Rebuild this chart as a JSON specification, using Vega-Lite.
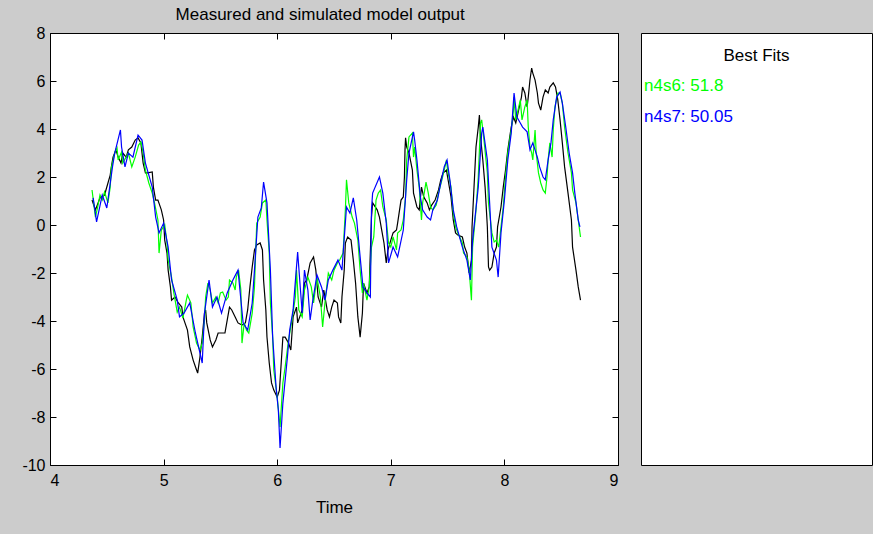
{
  "$schema": "https://vega.github.io/schema/vega-lite/v6.json",
  "background": "#cccccc",
  "padding": {"left": 21, "top": 5, "right": 0, "bottom": 18},
  "spacing": 21,
  "config": {
    "view": {"stroke": "#000000", "strokeWidth": 1, "fill": "#ffffff"},
    "font": "Liberation Sans",
    "axis": {"grid": false, "domain": false, "tickColor": "#000000", "tickSize": -6, "labelColor": "#000000", "labelFont": "Liberation Sans", "labelFontSize": 16, "titleFont": "Liberation Sans", "titleFontSize": 17, "titleFontWeight": "normal", "titleColor": "#000000", "labelExpr": "replace(datum.label, '\u2212', '-')"},
    "title": {"font": "Liberation Sans", "fontSize": 17, "fontWeight": "normal", "color": "#000000"}
  },
  "datasets": {
    "fits": [
      {"series": "n4s6", "rank": 1, "label": "n4s6: 51.8"},
      {"series": "n4s7", "rank": 2, "label": "n4s7: 50.05"}
    ],
    "lines": [
      {"series":"measured","time":4.37,"y":1.04},{"series":"measured","time":4.40,"y":0.63},{"series":"measured","time":4.44,"y":1.13},{"series":"measured","time":4.48,"y":1.25},{"series":"measured","time":4.53,"y":2.08},{"series":"measured","time":4.54,"y":2.42},{"series":"measured","time":4.555,"y":2.83},{"series":"measured","time":4.58,"y":3.13},{"series":"measured","time":4.60,"y":2.83},{"series":"measured","time":4.625,"y":2.58},{"series":"measured","time":4.64,"y":3.0},{"series":"measured","time":4.67,"y":2.83},{"series":"measured","time":4.69,"y":3.13},{"series":"measured","time":4.72,"y":3.25},{"series":"measured","time":4.75,"y":3.54},{"series":"measured","time":4.775,"y":3.63},{"series":"measured","time":4.80,"y":3.42},{"series":"measured","time":4.82,"y":2.58},{"series":"measured","time":4.84,"y":2.17},{"series":"measured","time":4.86,"y":2.17},{"series":"measured","time":4.90,"y":2.21},{"series":"measured","time":4.91,"y":1.58},{"series":"measured","time":4.93,"y":1.04},{"series":"measured","time":4.95,"y":1.04},{"series":"measured","time":4.98,"y":0.63},{"series":"measured","time":5.00,"y":0.21},{"series":"measured","time":5.01,"y":-0.63},{"series":"measured","time":5.03,"y":-1.17},{"series":"measured","time":5.04,"y":-1.88},{"series":"measured","time":5.06,"y":-2.58},{"series":"measured","time":5.07,"y":-3.13},{"series":"measured","time":5.10,"y":-3.0},{"series":"measured","time":5.13,"y":-3.25},{"series":"measured","time":5.16,"y":-3.42},{"series":"measured","time":5.17,"y":-3.83},{"series":"measured","time":5.21,"y":-4.38},{"series":"measured","time":5.23,"y":-5.08},{"series":"measured","time":5.26,"y":-5.63},{"series":"measured","time":5.29,"y":-6.04},{"series":"measured","time":5.30,"y":-6.17},{"series":"measured","time":5.32,"y":-5.5},{"series":"measured","time":5.34,"y":-4.67},{"series":"measured","time":5.36,"y":-3.67},{"series":"measured","time":5.37,"y":-3.54},{"series":"measured","time":5.38,"y":-4.08},{"series":"measured","time":5.41,"y":-4.79},{"series":"measured","time":5.43,"y":-5.08},{"series":"measured","time":5.46,"y":-4.79},{"series":"measured","time":5.48,"y":-4.5},{"series":"measured","time":5.51,"y":-4.5},{"series":"measured","time":5.54,"y":-4.5},{"series":"measured","time":5.56,"y":-3.96},{"series":"measured","time":5.58,"y":-3.42},{"series":"measured","time":5.60,"y":-3.54},{"series":"measured","time":5.63,"y":-3.83},{"series":"measured","time":5.655,"y":-4.08},{"series":"measured","time":5.69,"y":-4.17},{"series":"measured","time":5.72,"y":-4.08},{"series":"measured","time":5.74,"y":-3.54},{"series":"measured","time":5.76,"y":-2.58},{"series":"measured","time":5.78,"y":-1.75},{"series":"measured","time":5.80,"y":-1.04},{"series":"measured","time":5.82,"y":-0.83},{"series":"measured","time":5.85,"y":-0.75},{"series":"measured","time":5.87,"y":-1.04},{"series":"measured","time":5.88,"y":-2.29},{"series":"measured","time":5.90,"y":-3.54},{"series":"measured","time":5.91,"y":-4.67},{"series":"measured","time":5.93,"y":-5.75},{"series":"measured","time":5.95,"y":-6.58},{"series":"measured","time":5.97,"y":-6.88},{"series":"measured","time":6.00,"y":-7.17},{"series":"measured","time":6.02,"y":-6.88},{"series":"measured","time":6.05,"y":-4.67},{"series":"measured","time":6.07,"y":-4.67},{"series":"measured","time":6.10,"y":-4.92},{"series":"measured","time":6.12,"y":-5.21},{"series":"measured","time":6.14,"y":-3.83},{"series":"measured","time":6.17,"y":-3.42},{"series":"measured","time":6.18,"y":-4.08},{"series":"measured","time":6.22,"y":-3.54},{"series":"measured","time":6.24,"y":-2.42},{"series":"measured","time":6.26,"y":-2.29},{"series":"measured","time":6.29,"y":-1.58},{"series":"measured","time":6.32,"y":-1.33},{"series":"measured","time":6.34,"y":-1.88},{"series":"measured","time":6.36,"y":-3.0},{"series":"measured","time":6.39,"y":-3.42},{"series":"measured","time":6.41,"y":-2.71},{"series":"measured","time":6.44,"y":-3.54},{"series":"measured","time":6.46,"y":-3.83},{"series":"measured","time":6.48,"y":-3.42},{"series":"measured","time":6.50,"y":-3.13},{"series":"measured","time":6.53,"y":-3.25},{"series":"measured","time":6.54,"y":-3.83},{"series":"measured","time":6.56,"y":-4.08},{"series":"measured","time":6.57,"y":-3.0},{"series":"measured","time":6.59,"y":-1.88},{"series":"measured","time":6.60,"y":-0.75},{"series":"measured","time":6.62,"y":-0.5},{"series":"measured","time":6.65,"y":-0.63},{"series":"measured","time":6.67,"y":-1.46},{"series":"measured","time":6.69,"y":-2.42},{"series":"measured","time":6.71,"y":-3.83},{"series":"measured","time":6.73,"y":-4.67},{"series":"measured","time":6.75,"y":-3.67},{"series":"measured","time":6.76,"y":-2.42},{"series":"measured","time":6.79,"y":-2.83},{"series":"measured","time":6.81,"y":-2.58},{"series":"measured","time":6.83,"y":0.33},{"series":"measured","time":6.84,"y":0.92},{"series":"measured","time":6.88,"y":0.63},{"series":"measured","time":6.90,"y":0.33},{"series":"measured","time":6.92,"y":-0.21},{"series":"measured","time":6.94,"y":-0.75},{"series":"measured","time":6.96,"y":-1.58},{"series":"measured","time":6.975,"y":-1.04},{"series":"measured","time":7.00,"y":-0.63},{"series":"measured","time":7.02,"y":-0.33},{"series":"measured","time":7.05,"y":-0.21},{"series":"measured","time":7.06,"y":0.08},{"series":"measured","time":7.09,"y":1.04},{"series":"measured","time":7.11,"y":1.17},{"series":"measured","time":7.12,"y":2.0},{"series":"measured","time":7.125,"y":3.13},{"series":"measured","time":7.13,"y":3.63},{"series":"measured","time":7.14,"y":3.25},{"series":"measured","time":7.16,"y":3.0},{"series":"measured","time":7.19,"y":2.29},{"series":"measured","time":7.20,"y":1.33},{"series":"measured","time":7.23,"y":0.75},{"series":"measured","time":7.25,"y":0.63},{"series":"measured","time":7.27,"y":1.58},{"series":"measured","time":7.29,"y":1.17},{"series":"measured","time":7.32,"y":0.92},{"series":"measured","time":7.34,"y":0.63},{"series":"measured","time":7.36,"y":0.83},{"series":"measured","time":7.39,"y":1.04},{"series":"measured","time":7.42,"y":1.46},{"series":"measured","time":7.44,"y":1.88},{"series":"measured","time":7.46,"y":2.17},{"series":"measured","time":7.49,"y":2.29},{"series":"measured","time":7.50,"y":2.0},{"series":"measured","time":7.53,"y":1.17},{"series":"measured","time":7.55,"y":0.21},{"series":"measured","time":7.57,"y":-0.33},{"series":"measured","time":7.59,"y":-0.42},{"series":"measured","time":7.63,"y":-0.5},{"series":"measured","time":7.65,"y":-0.92},{"series":"measured","time":7.67,"y":-1.17},{"series":"measured","time":7.69,"y":-2.0},{"series":"measured","time":7.71,"y":-1.46},{"series":"measured","time":7.715,"y":-0.08},{"series":"measured","time":7.73,"y":1.33},{"series":"measured","time":7.75,"y":3.25},{"series":"measured","time":7.77,"y":4.08},{"series":"measured","time":7.78,"y":4.58},{"series":"measured","time":7.79,"y":3.67},{"series":"measured","time":7.81,"y":2.71},{"series":"measured","time":7.83,"y":1.58},{"series":"measured","time":7.85,"y":-0.08},{"series":"measured","time":7.86,"y":-1.75},{"series":"measured","time":7.87,"y":-1.88},{"series":"measured","time":7.89,"y":-1.75},{"series":"measured","time":7.91,"y":-1.17},{"series":"measured","time":7.93,"y":-0.92},{"series":"measured","time":7.94,"y":-0.08},{"series":"measured","time":7.97,"y":0.75},{"series":"measured","time":7.99,"y":1.58},{"series":"measured","time":8.01,"y":2.29},{"series":"measured","time":8.03,"y":3.13},{"series":"measured","time":8.06,"y":4.08},{"series":"measured","time":8.08,"y":4.5},{"series":"measured","time":8.10,"y":4.25},{"series":"measured","time":8.12,"y":4.67},{"series":"measured","time":8.15,"y":5.33},{"series":"measured","time":8.16,"y":5.75},{"series":"measured","time":8.18,"y":5.5},{"series":"measured","time":8.20,"y":4.92},{"series":"measured","time":8.21,"y":5.33},{"series":"measured","time":8.225,"y":6.04},{"series":"measured","time":8.24,"y":6.54},{"series":"measured","time":8.25,"y":6.33},{"series":"measured","time":8.27,"y":6.04},{"series":"measured","time":8.29,"y":5.5},{"series":"measured","time":8.30,"y":5.08},{"series":"measured","time":8.32,"y":4.79},{"series":"measured","time":8.34,"y":5.33},{"series":"measured","time":8.36,"y":5.63},{"series":"measured","time":8.385,"y":5.5},{"series":"measured","time":8.40,"y":5.75},{"series":"measured","time":8.43,"y":5.92},{"series":"measured","time":8.45,"y":5.75},{"series":"measured","time":8.47,"y":5.21},{"series":"measured","time":8.49,"y":4.38},{"series":"measured","time":8.51,"y":3.42},{"series":"measured","time":8.53,"y":2.42},{"series":"measured","time":8.56,"y":1.33},{"series":"measured","time":8.59,"y":0.21},{"series":"measured","time":8.60,"y":-0.92},{"series":"measured","time":8.63,"y":-1.88},{"series":"measured","time":8.65,"y":-2.58},{"series":"measured","time":8.67,"y":-3.13},

      {"series":"n4s6","time":4.37,"y":1.46},{"series":"n4s6","time":4.40,"y":0.33},{"series":"n4s6","time":4.42,"y":0.75},{"series":"n4s6","time":4.44,"y":1.25},{"series":"n4s6","time":4.46,"y":1.04},{"series":"n4s6","time":4.48,"y":1.38},{"series":"n4s6","time":4.51,"y":0.92},{"series":"n4s6","time":4.53,"y":1.58},{"series":"n4s6","time":4.54,"y":2.38},{"series":"n4s6","time":4.57,"y":3.0},{"series":"n4s6","time":4.59,"y":3.21},{"series":"n4s6","time":4.60,"y":2.71},{"series":"n4s6","time":4.63,"y":3.04},{"series":"n4s6","time":4.64,"y":2.58},{"series":"n4s6","time":4.67,"y":2.83},{"series":"n4s6","time":4.69,"y":3.0},{"series":"n4s6","time":4.72,"y":2.42},{"series":"n4s6","time":4.75,"y":2.83},{"series":"n4s6","time":4.78,"y":3.33},{"series":"n4s6","time":4.80,"y":3.46},{"series":"n4s6","time":4.82,"y":3.0},{"series":"n4s6","time":4.84,"y":2.29},{"series":"n4s6","time":4.87,"y":1.75},{"series":"n4s6","time":4.90,"y":1.33},{"series":"n4s6","time":4.92,"y":0.92},{"series":"n4s6","time":4.95,"y":0.21},{"series":"n4s6","time":4.96,"y":-1.17},{"series":"n4s6","time":4.98,"y":-0.21},{"series":"n4s6","time":5.01,"y":0.0},{"series":"n4s6","time":5.03,"y":-0.75},{"series":"n4s6","time":5.04,"y":-1.46},{"series":"n4s6","time":5.07,"y":-2.17},{"series":"n4s6","time":5.09,"y":-2.83},{"series":"n4s6","time":5.12,"y":-3.63},{"series":"n4s6","time":5.14,"y":-3.42},{"series":"n4s6","time":5.17,"y":-3.88},{"series":"n4s6","time":5.20,"y":-3.13},{"series":"n4s6","time":5.21,"y":-2.92},{"series":"n4s6","time":5.24,"y":-3.25},{"series":"n4s6","time":5.26,"y":-4.25},{"series":"n4s6","time":5.29,"y":-4.92},{"series":"n4s6","time":5.32,"y":-5.21},{"series":"n4s6","time":5.34,"y":-4.92},{"series":"n4s6","time":5.36,"y":-3.96},{"series":"n4s6","time":5.37,"y":-3.0},{"series":"n4s6","time":5.39,"y":-2.42},{"series":"n4s6","time":5.41,"y":-2.71},{"series":"n4s6","time":5.43,"y":-3.25},{"series":"n4s6","time":5.46,"y":-3.0},{"series":"n4s6","time":5.48,"y":-3.25},{"series":"n4s6","time":5.50,"y":-2.83},{"series":"n4s6","time":5.52,"y":-2.79},{"series":"n4s6","time":5.55,"y":-3.13},{"series":"n4s6","time":5.57,"y":-3.0},{"series":"n4s6","time":5.58,"y":-2.29},{"series":"n4s6","time":5.61,"y":-2.42},{"series":"n4s6","time":5.63,"y":-2.71},{"series":"n4s6","time":5.64,"y":-2.17},{"series":"n4s6","time":5.66,"y":-1.88},{"series":"n4s6","time":5.68,"y":-2.71},{"series":"n4s6","time":5.69,"y":-4.92},{"series":"n4s6","time":5.71,"y":-4.08},{"series":"n4s6","time":5.73,"y":-4.38},{"series":"n4s6","time":5.75,"y":-4.5},{"series":"n4s6","time":5.78,"y":-3.67},{"series":"n4s6","time":5.80,"y":-2.58},{"series":"n4s6","time":5.81,"y":-1.17},{"series":"n4s6","time":5.82,"y":0.08},{"series":"n4s6","time":5.85,"y":0.33},{"series":"n4s6","time":5.87,"y":0.92},{"series":"n4s6","time":5.90,"y":1.04},{"series":"n4s6","time":5.91,"y":0.21},{"series":"n4s6","time":5.93,"y":-1.17},{"series":"n4s6","time":5.94,"y":-3.25},{"series":"n4s6","time":5.96,"y":-4.67},{"series":"n4s6","time":5.97,"y":-6.04},{"series":"n4s6","time":6.00,"y":-7.17},{"series":"n4s6","time":6.025,"y":-8.42},{"series":"n4s6","time":6.05,"y":-6.58},{"series":"n4s6","time":6.07,"y":-5.92},{"series":"n4s6","time":6.10,"y":-4.79},{"series":"n4s6","time":6.13,"y":-3.96},{"series":"n4s6","time":6.16,"y":-3.0},{"series":"n4s6","time":6.17,"y":-1.88},{"series":"n4s6","time":6.19,"y":-3.54},{"series":"n4s6","time":6.22,"y":-3.83},{"series":"n4s6","time":6.24,"y":-2.71},{"series":"n4s6","time":6.27,"y":-2.17},{"series":"n4s6","time":6.30,"y":-2.58},{"series":"n4s6","time":6.32,"y":-3.25},{"series":"n4s6","time":6.35,"y":-2.17},{"series":"n4s6","time":6.38,"y":-3.0},{"series":"n4s6","time":6.40,"y":-4.25},{"series":"n4s6","time":6.42,"y":-3.25},{"series":"n4s6","time":6.45,"y":-2.0},{"series":"n4s6","time":6.48,"y":-2.29},{"series":"n4s6","time":6.50,"y":-1.88},{"series":"n4s6","time":6.53,"y":-1.58},{"series":"n4s6","time":6.55,"y":-1.46},{"series":"n4s6","time":6.58,"y":-1.17},{"series":"n4s6","time":6.60,"y":0.63},{"series":"n4s6","time":6.61,"y":1.88},{"series":"n4s6","time":6.63,"y":0.92},{"series":"n4s6","time":6.66,"y":0.33},{"series":"n4s6","time":6.68,"y":0.08},{"series":"n4s6","time":6.71,"y":-0.63},{"series":"n4s6","time":6.73,"y":-1.88},{"series":"n4s6","time":6.75,"y":-2.83},{"series":"n4s6","time":6.76,"y":-2.42},{"series":"n4s6","time":6.79,"y":-3.13},{"series":"n4s6","time":6.81,"y":-2.58},{"series":"n4s6","time":6.83,"y":-0.92},{"series":"n4s6","time":6.85,"y":-0.5},{"series":"n4s6","time":6.87,"y":1.04},{"series":"n4s6","time":6.89,"y":1.33},{"series":"n4s6","time":6.91,"y":1.46},{"series":"n4s6","time":6.93,"y":0.75},{"series":"n4s6","time":6.96,"y":0.21},{"series":"n4s6","time":6.98,"y":-0.75},{"series":"n4s6","time":7.00,"y":-0.92},{"series":"n4s6","time":7.02,"y":-0.5},{"series":"n4s6","time":7.05,"y":-1.04},{"series":"n4s6","time":7.06,"y":-0.33},{"series":"n4s6","time":7.09,"y":-0.21},{"series":"n4s6","time":7.11,"y":0.21},{"series":"n4s6","time":7.13,"y":1.17},{"series":"n4s6","time":7.14,"y":2.71},{"series":"n4s6","time":7.16,"y":3.67},{"series":"n4s6","time":7.19,"y":3.83},{"series":"n4s6","time":7.20,"y":2.83},{"series":"n4s6","time":7.21,"y":3.25},{"series":"n4s6","time":7.23,"y":2.29},{"series":"n4s6","time":7.25,"y":1.58},{"series":"n4s6","time":7.27,"y":0.21},{"series":"n4s6","time":7.28,"y":0.92},{"series":"n4s6","time":7.31,"y":1.79},{"series":"n4s6","time":7.33,"y":1.33},{"series":"n4s6","time":7.35,"y":0.75},{"series":"n4s6","time":7.37,"y":0.63},{"series":"n4s6","time":7.40,"y":0.83},{"series":"n4s6","time":7.42,"y":1.33},{"series":"n4s6","time":7.45,"y":1.88},{"series":"n4s6","time":7.47,"y":2.29},{"series":"n4s6","time":7.49,"y":2.71},{"series":"n4s6","time":7.50,"y":2.29},{"series":"n4s6","time":7.53,"y":1.58},{"series":"n4s6","time":7.55,"y":0.5},{"series":"n4s6","time":7.57,"y":-0.08},{"series":"n4s6","time":7.59,"y":-0.33},{"series":"n4s6","time":7.63,"y":-0.75},{"series":"n4s6","time":7.64,"y":-1.17},{"series":"n4s6","time":7.67,"y":-1.33},{"series":"n4s6","time":7.69,"y":-1.88},{"series":"n4s6","time":7.71,"y":-3.13},{"series":"n4s6","time":7.72,"y":-0.92},{"series":"n4s6","time":7.75,"y":0.63},{"series":"n4s6","time":7.77,"y":2.0},{"series":"n4s6","time":7.79,"y":4.25},{"series":"n4s6","time":7.80,"y":4.38},{"series":"n4s6","time":7.82,"y":3.54},{"series":"n4s6","time":7.85,"y":2.17},{"series":"n4s6","time":7.86,"y":0.92},{"series":"n4s6","time":7.89,"y":-0.33},{"series":"n4s6","time":7.91,"y":-0.71},{"series":"n4s6","time":7.93,"y":-0.63},{"series":"n4s6","time":7.95,"y":-0.92},{"series":"n4s6","time":7.97,"y":-0.08},{"series":"n4s6","time":7.99,"y":0.75},{"series":"n4s6","time":8.01,"y":2.0},{"series":"n4s6","time":8.03,"y":3.0},{"series":"n4s6","time":8.06,"y":3.96},{"series":"n4s6","time":8.08,"y":4.79},{"series":"n4s6","time":8.085,"y":5.33},{"series":"n4s6","time":8.10,"y":4.38},{"series":"n4s6","time":8.12,"y":4.79},{"series":"n4s6","time":8.14,"y":5.21},{"series":"n4s6","time":8.155,"y":4.38},{"series":"n4s6","time":8.18,"y":4.92},{"series":"n4s6","time":8.20,"y":5.21},{"series":"n4s6","time":8.21,"y":4.08},{"series":"n4s6","time":8.225,"y":3.25},{"series":"n4s6","time":8.24,"y":3.0},{"series":"n4s6","time":8.25,"y":2.71},{"series":"n4s6","time":8.27,"y":3.96},{"series":"n4s6","time":8.28,"y":3.0},{"series":"n4s6","time":8.30,"y":2.17},{"series":"n4s6","time":8.32,"y":1.75},{"series":"n4s6","time":8.34,"y":1.46},{"series":"n4s6","time":8.36,"y":1.33},{"series":"n4s6","time":8.375,"y":2.0},{"series":"n4s6","time":8.385,"y":2.71},{"series":"n4s6","time":8.40,"y":3.42},{"series":"n4s6","time":8.42,"y":2.83},{"series":"n4s6","time":8.43,"y":3.96},{"series":"n4s6","time":8.445,"y":4.92},{"series":"n4s6","time":8.47,"y":5.5},{"series":"n4s6","time":8.49,"y":5.5},{"series":"n4s6","time":8.51,"y":5.08},{"series":"n4s6","time":8.53,"y":4.08},{"series":"n4s6","time":8.56,"y":3.0},{"series":"n4s6","time":8.59,"y":2.17},{"series":"n4s6","time":8.60,"y":1.46},{"series":"n4s6","time":8.63,"y":0.92},{"series":"n4s6","time":8.65,"y":0.21},{"series":"n4s6","time":8.67,"y":-0.5},

      {"series":"n4s7","time":4.38,"y":1.13},{"series":"n4s7","time":4.41,"y":0.13},{"series":"n4s7","time":4.46,"y":1.25},{"series":"n4s7","time":4.50,"y":0.71},{"series":"n4s7","time":4.55,"y":2.42},{"series":"n4s7","time":4.57,"y":3.0},{"series":"n4s7","time":4.62,"y":3.96},{"series":"n4s7","time":4.63,"y":3.25},{"series":"n4s7","time":4.66,"y":2.42},{"series":"n4s7","time":4.69,"y":3.0},{"series":"n4s7","time":4.73,"y":2.83},{"series":"n4s7","time":4.775,"y":3.75},{"series":"n4s7","time":4.81,"y":3.54},{"series":"n4s7","time":4.84,"y":2.58},{"series":"n4s7","time":4.90,"y":1.58},{"series":"n4s7","time":4.93,"y":0.33},{"series":"n4s7","time":4.96,"y":-0.33},{"series":"n4s7","time":5.00,"y":0.08},{"series":"n4s7","time":5.04,"y":-0.92},{"series":"n4s7","time":5.07,"y":-2.29},{"series":"n4s7","time":5.12,"y":-3.13},{"series":"n4s7","time":5.14,"y":-3.83},{"series":"n4s7","time":5.18,"y":-3.67},{"series":"n4s7","time":5.23,"y":-3.25},{"series":"n4s7","time":5.28,"y":-4.5},{"series":"n4s7","time":5.34,"y":-5.75},{"series":"n4s7","time":5.36,"y":-3.67},{"series":"n4s7","time":5.40,"y":-2.29},{"series":"n4s7","time":5.43,"y":-3.42},{"series":"n4s7","time":5.47,"y":-3.0},{"series":"n4s7","time":5.51,"y":-3.67},{"series":"n4s7","time":5.56,"y":-2.83},{"series":"n4s7","time":5.61,"y":-2.29},{"series":"n4s7","time":5.655,"y":-1.88},{"series":"n4s7","time":5.70,"y":-4.08},{"series":"n4s7","time":5.74,"y":-4.38},{"series":"n4s7","time":5.78,"y":-3.25},{"series":"n4s7","time":5.80,"y":-1.88},{"series":"n4s7","time":5.83,"y":0.33},{"series":"n4s7","time":5.86,"y":0.71},{"series":"n4s7","time":5.88,"y":1.79},{"series":"n4s7","time":5.91,"y":0.92},{"series":"n4s7","time":5.94,"y":-1.88},{"series":"n4s7","time":5.96,"y":-4.67},{"series":"n4s7","time":5.99,"y":-6.75},{"series":"n4s7","time":6.01,"y":-7.71},{"series":"n4s7","time":6.025,"y":-9.29},{"series":"n4s7","time":6.05,"y":-7.42},{"series":"n4s7","time":6.09,"y":-5.5},{"series":"n4s7","time":6.11,"y":-4.38},{"series":"n4s7","time":6.14,"y":-3.54},{"series":"n4s7","time":6.18,"y":-1.13},{"series":"n4s7","time":6.22,"y":-3.67},{"series":"n4s7","time":6.24,"y":-1.88},{"series":"n4s7","time":6.27,"y":-2.71},{"series":"n4s7","time":6.29,"y":-3.96},{"series":"n4s7","time":6.31,"y":-3.25},{"series":"n4s7","time":6.35,"y":-2.08},{"series":"n4s7","time":6.39,"y":-2.58},{"series":"n4s7","time":6.42,"y":-3.13},{"series":"n4s7","time":6.45,"y":-2.29},{"series":"n4s7","time":6.49,"y":-1.88},{"series":"n4s7","time":6.535,"y":-1.46},{"series":"n4s7","time":6.57,"y":-1.88},{"series":"n4s7","time":6.61,"y":0.75},{"series":"n4s7","time":6.64,"y":0.5},{"series":"n4s7","time":6.67,"y":1.13},{"series":"n4s7","time":6.70,"y":0.21},{"series":"n4s7","time":6.73,"y":-1.33},{"series":"n4s7","time":6.755,"y":-2.58},{"series":"n4s7","time":6.79,"y":-2.83},{"series":"n4s7","time":6.82,"y":-3.0},{"series":"n4s7","time":6.83,"y":0.63},{"series":"n4s7","time":6.84,"y":1.33},{"series":"n4s7","time":6.90,"y":2.0},{"series":"n4s7","time":6.93,"y":1.33},{"series":"n4s7","time":6.96,"y":0.08},{"series":"n4s7","time":6.98,"y":-1.58},{"series":"n4s7","time":7.02,"y":-0.92},{"series":"n4s7","time":7.06,"y":-1.33},{"series":"n4s7","time":7.11,"y":-0.21},{"series":"n4s7","time":7.14,"y":1.88},{"series":"n4s7","time":7.16,"y":3.0},{"series":"n4s7","time":7.20,"y":3.88},{"series":"n4s7","time":7.21,"y":3.54},{"series":"n4s7","time":7.23,"y":2.71},{"series":"n4s7","time":7.26,"y":1.17},{"series":"n4s7","time":7.28,"y":0.63},{"series":"n4s7","time":7.32,"y":0.33},{"series":"n4s7","time":7.35,"y":0.21},{"series":"n4s7","time":7.37,"y":0.63},{"series":"n4s7","time":7.41,"y":1.04},{"series":"n4s7","time":7.44,"y":1.75},{"series":"n4s7","time":7.47,"y":2.42},{"series":"n4s7","time":7.495,"y":2.71},{"series":"n4s7","time":7.52,"y":1.88},{"series":"n4s7","time":7.55,"y":0.63},{"series":"n4s7","time":7.58,"y":-0.08},{"series":"n4s7","time":7.63,"y":-0.92},{"series":"n4s7","time":7.67,"y":-1.46},{"series":"n4s7","time":7.70,"y":-2.29},{"series":"n4s7","time":7.72,"y":-0.63},{"series":"n4s7","time":7.77,"y":1.58},{"series":"n4s7","time":7.80,"y":3.83},{"series":"n4s7","time":7.81,"y":4.08},{"series":"n4s7","time":7.85,"y":2.71},{"series":"n4s7","time":7.87,"y":0.92},{"series":"n4s7","time":7.89,"y":-0.92},{"series":"n4s7","time":7.93,"y":-1.46},{"series":"n4s7","time":7.945,"y":-2.17},{"series":"n4s7","time":7.97,"y":-0.33},{"series":"n4s7","time":8.00,"y":1.04},{"series":"n4s7","time":8.03,"y":2.71},{"series":"n4s7","time":8.06,"y":3.83},{"series":"n4s7","time":8.085,"y":5.5},{"series":"n4s7","time":8.11,"y":4.5},{"series":"n4s7","time":8.14,"y":4.25},{"series":"n4s7","time":8.16,"y":4.08},{"series":"n4s7","time":8.20,"y":3.88},{"series":"n4s7","time":8.225,"y":3.13},{"series":"n4s7","time":8.25,"y":3.42},{"series":"n4s7","time":8.29,"y":2.83},{"series":"n4s7","time":8.31,"y":2.42},{"series":"n4s7","time":8.34,"y":2.0},{"series":"n4s7","time":8.36,"y":1.88},{"series":"n4s7","time":8.385,"y":2.71},{"series":"n4s7","time":8.41,"y":3.42},{"series":"n4s7","time":8.43,"y":4.38},{"series":"n4s7","time":8.46,"y":5.33},{"series":"n4s7","time":8.49,"y":5.54},{"series":"n4s7","time":8.51,"y":5.08},{"series":"n4s7","time":8.54,"y":4.08},{"series":"n4s7","time":8.57,"y":3.0},{"series":"n4s7","time":8.60,"y":2.17},{"series":"n4s7","time":8.62,"y":1.33},{"series":"n4s7","time":8.65,"y":0.21},{"series":"n4s7","time":8.665,"y":-0.08}
    ]
  },
  "hconcat": [
    {
      "width": 568,
      "height": 432,
      "title": {"text": "Measured and simulated model output", "offset": 1, "frame": "bounds", "anchor": "middle"},
      "data": {"name": "lines"},
      "layer": [
        {
          "mark": {"type": "line", "strokeWidth": 1.2, "clip": true},
          "encoding": {
            "x": {"field": "time", "type": "quantitative", "scale": {"domain": [4, 9], "nice": false, "zero": false},
                  "axis": {"orient": "bottom", "values": [4, 5, 6, 7, 8, 9], "title": "Time", "labelPadding": 13, "titlePadding": 11}},
            "y": {"field": "y", "type": "quantitative", "scale": {"domain": [-10, 8], "nice": false, "zero": false},
                  "axis": {"orient": "left", "values": [-10, -8, -6, -4, -2, 0, 2, 4, 6, 8], "title": null, "labelPadding": 11}},
            "color": {"field": "series", "type": "nominal",
                      "scale": {"domain": ["measured", "n4s6", "n4s7"], "range": ["#000000", "#00ff00", "#0000ff"]},
                      "legend": null}
          }
        },
        {
          "mark": {"type": "point", "opacity": 0},
          "encoding": {
            "x": {"field": "time", "type": "quantitative", "axis": {"orient": "top", "values": [4, 5, 6, 7, 8, 9], "labels": false, "title": null}},
            "y": {"field": "y", "type": "quantitative", "axis": {"orient": "right", "values": [-10, -8, -6, -4, -2, 0, 2, 4, 6, 8], "labels": false, "title": null}}
          }
        }
      ],
      "resolve": {"axis": {"x": "independent", "y": "independent"}}
    },
    {
      "width": 231,
      "height": 432,
      "layer": [
        {
          "data": {"values": [{"header": "Best Fits"}]},
          "mark": {"type": "text", "align": "center", "baseline": "middle", "fontSize": 17, "font": "Liberation Sans", "color": "#000000"},
          "encoding": {
            "x": {"datum": 0.5, "type": "quantitative", "scale": {"domain": [0, 1], "nice": false, "zero": false}, "axis": null},
            "y": {"datum": 0, "type": "quantitative", "scale": {"domain": [-0.74, 13.42], "reverse": true, "nice": false, "zero": false}, "axis": null},
            "text": {"field": "header"}
          }
        },
        {
          "data": {"name": "fits"},
          "mark": {"type": "text", "align": "left", "baseline": "middle", "fontSize": 17, "font": "Liberation Sans"},
          "encoding": {
            "x": {"datum": 0.013, "type": "quantitative", "axis": null},
            "y": {"field": "rank", "type": "quantitative", "axis": null},
            "text": {"field": "label"},
            "color": {"field": "series", "type": "nominal", "legend": null}
          }
        }
      ]
    }
  ]
}
